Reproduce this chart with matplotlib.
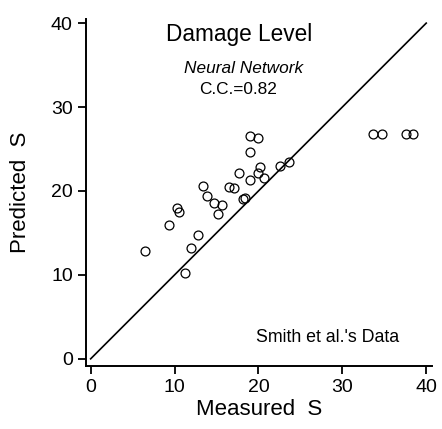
import matplotlib
matplotlib.use('Agg')
import matplotlib.pyplot as plt
import numpy as np

plt.rcParams['font.family'] = ['Liberation Sans', 'DejaVu Sans']

# measured vs predicted damage level S
measured = [6.5, 9.3, 10.3, 10.5, 11.2, 12.0, 12.8, 13.4, 13.9, 14.7, 15.2, 15.7,
            16.5, 17.1, 17.7, 18.2, 18.4, 19.0, 19.0, 20.0, 19.0, 20.2, 19.9, 20.7,
            22.6, 23.7, 33.7, 34.7, 37.6, 38.4]
predicted = [12.9, 15.9, 18.0, 17.5, 10.2, 13.2, 14.8, 20.6, 19.4, 18.6, 17.3, 18.3,
             20.5, 20.3, 22.1, 19.1, 19.2, 21.3, 26.6, 26.3, 24.6, 22.9, 22.1, 21.6,
             23.0, 23.4, 26.75, 26.75, 26.75, 26.75]
ticks = [0, 10, 20, 30, 40]
perfect = [0, 40]

fig = plt.figure(figsize=(4.42, 4.29), dpi=100)
ax = fig.add_axes([0.1946, 0.1469, 0.783, 0.809])

ax.plot(perfect, perfect, color='black', lw=1.2)
ax.plot(measured, predicted, 'o', mfc='none', mec='black', ms=6.4, mew=0.9)

ax.set(xlim=[-0.55, 40.7], ylim=[-0.85, 40.5], xticks=ticks, yticks=ticks)
ax.spines['top'].set_visible(False)
ax.spines['right'].set_visible(False)
ax.spines['left'].set_linewidth(1.4)
ax.spines['bottom'].set_linewidth(1.4)
ax.tick_params(direction='out', length=6, width=1.3, labelsize=14, pad=3.5)
ax.set_xlabel('Measured  S', fontsize=16, labelpad=2)
ax.set_ylabel('Predicted  S', fontsize=16, labelpad=14)

ax.text(0.442, 0.955, 'Damage Level', transform=ax.transAxes, ha='center', va='center', fontsize=16.3)
ax.text(0.456, 0.858, 'Neural Network', transform=ax.transAxes, ha='center', va='center',
        fontsize=12.4, style='italic')
ax.text(0.44, 0.797, 'C.C.=0.82', transform=ax.transAxes, ha='center', va='center', fontsize=12.4)
ax.text(0.697, 0.081, "Smith et al.'s Data", transform=ax.transAxes, ha='center', va='center',
        fontsize=12.8)

plt.savefig('out.png', dpi=100)
